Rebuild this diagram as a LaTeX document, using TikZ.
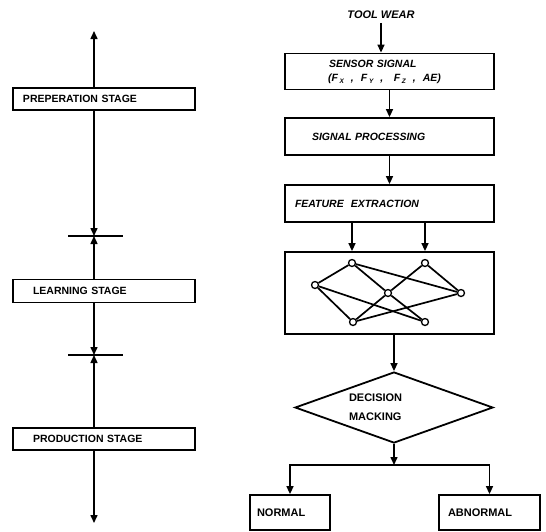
\documentclass[tikz,border=0pt]{standalone}
\usepackage{fontspec}
\setmainfont{Liberation Sans}
\usetikzlibrary{arrows.meta, shapes.geometric}
\newcommand{\axis}[1]{\,{\fontsize{6.5}{6.5}\selectfont\raisebox{-2pt}{#1}}}

\begin{document}
\begin{tikzpicture}[x=1pt, y=-1pt, >={Triangle[length=8pt, width=7pt]}, line width=1.5pt,
    stage/.style={draw, line width=1.8pt, minimum width=182pt, minimum height=22pt, text width=178pt, inner sep=2pt, align=left, font=\fontsize{10.5}{12}\selectfont\bfseries},
    flow/.style={draw, line width=1.8pt, minimum height=37pt, text width=205pt, inner sep=2pt, align=left, font=\fontsize{10.5}{12}\selectfont\bfseries\itshape},
    result/.style={draw, line width=1.8pt, minimum height=35pt, inner sep=2pt, align=left, font=\fontsize{11}{12}\selectfont\bfseries},
    neuron/.style={circle, draw, fill=white, line width=1.3pt, inner sep=0pt, minimum size=7pt}
  ]
  \useasboundingbox (0,0) rectangle (546,531);

  % stages
  \node[stage] (prep) at (104,99) {\hspace*{8pt}PREPERATION STAGE};
  \node[stage, minimum height=23pt] (learn) at (104,291) {\hspace*{18pt}LEARNING STAGE};
  \node[stage] (prod) at (104,439) {\hspace*{18pt}PRODUCTION STAGE};
  \coordinate (top) at (94,31);
  \coordinate (t1) at (94,236);
  \coordinate (t2) at (94,355);
  \coordinate (bot) at (94,523);

  \draw[->] (prep.north -| top) -- (top);
  \draw[->] (prep.south -| top) -- (t1);
  \draw[->] (learn.north -| t1) -- (t1);
  \draw[->] (learn.south -| t2) -- (t2);
  \draw[->] (prod.north -| t2) -- (t2);
  \draw[->] (prod.south -| bot) -- (bot);
  \draw ([xshift=-26]t1) -- ([xshift=29]t1);
  \draw ([xshift=-26]t2) -- ([xshift=29]t2);

  % monitoring chain
  \node[font=\fontsize{11}{12}\selectfont\bfseries\itshape] (tool) at (381,15) {TOOL WEAR};
  \node[flow, minimum height=36pt, font=\fontsize{10.5}{14}\selectfont\bfseries\itshape] (sensor) at (389.5,71.5)
    {\hspace*{42pt}SENSOR SIGNAL\\\hspace*{41pt}(F\axis{X}\ \ ,\ \ F\axis{Y}\ \ ,\ \ \ F\axis{Z}\ \ ,\ \ AE)};
  \node[flow] (sig) at (389.5,136.5) {\hspace*{25pt}SIGNAL PROCESSING};
  \node[flow] (feat) at (389.5,203.5) {\hspace*{8pt}FEATURE\ \ EXTRACTION};
  \node[draw, line width=1.8pt, minimum width=209pt, minimum height=82pt] (net) at (389.5,293) {};

  \node[neuron] (l) at (315,285) {};
  \node[neuron] (tl) at (352,263) {};
  \node[neuron] (tr) at (425,263) {};
  \node[neuron] (c) at (388,293) {};
  \node[neuron] (r) at (461,293) {};
  \node[neuron] (bl) at (353,322) {};
  \node[neuron] (br) at (425,322) {};
  \foreach \a/\b in {l/tl, l/bl, l/br, tl/c, c/br, tr/c, c/bl, tr/r, tl/r, bl/r}
    \draw[line width=1.7pt] (\a) -- (\b);

  \node[diamond, draw, line width=1.8pt, aspect=2.79, minimum width=198pt, minimum height=71pt, inner sep=0pt,
        text width=90pt, align=left, font=\fontsize{11}{12}\selectfont\bfseries] (dec) at (394,407.5)
    {DECISION\\[7pt]MACKING};
  \node[result, minimum width=80pt, text width=76pt] (norm) at (290,512.5) {\hspace*{5pt}NORMAL};
  \node[result, minimum width=101pt, text width=97pt] (abnorm) at (489.5,512.5) {\hspace*{7pt}ABNORMAL};
  \coordinate (split) at (394,465);

  \draw[->] (tool.south) -- (tool.south |- sensor.north);
  \draw[->] (sensor) -- (sig);
  \draw[->] (sig) -- (feat);
  \draw[->] (feat.south -| tl) -- (net.north -| tl);
  \draw[->] (feat.south -| tr) -- (net.north -| tr);
  \draw[->] (net.south -| dec.north) -- (dec.north);
  \draw[->] (dec.south) -- (split);
  \draw[->] (split) -| (norm.north);
  \draw[->] (split) -| (abnorm.north);
\end{tikzpicture}
\end{document}
